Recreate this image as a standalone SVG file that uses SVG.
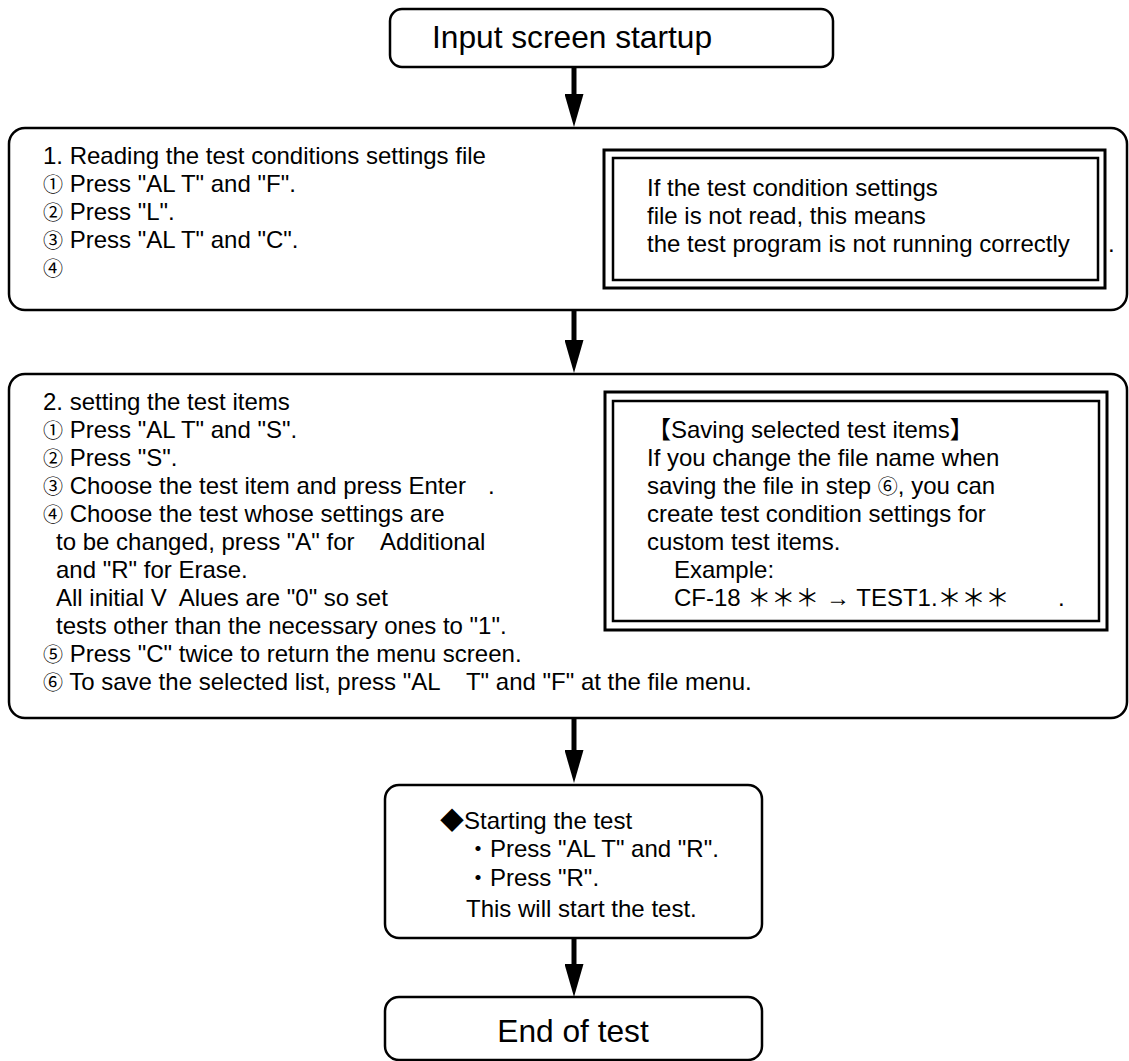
<svg xmlns="http://www.w3.org/2000/svg" width="1129" height="1061" viewBox="0 0 1129 1061">
<defs>
<style>
.box{fill:#fff;stroke:#000;stroke-width:2.5}
.co{fill:none;stroke:#000}
.t{font-family:"Liberation Sans","Noto Sans CJK JP",sans-serif;font-size:24px;fill:#000}
.n{font-family:"Noto Sans CJK JP",sans-serif;font-size:20px}
.big{font-family:"Liberation Sans","Noto Sans CJK JP",sans-serif;font-size:31.7px;fill:#000}
.shaft{stroke:#000;stroke-width:5;fill:none}
</style>
<marker id="ah" markerUnits="userSpaceOnUse" viewBox="0 0 33 19" markerWidth="33" markerHeight="19" refX="1" refY="9.5" orient="auto">
<path d="M0,0 L33,9.5 L0,19 Z" fill="#000"/>
</marker>
</defs>
<rect width="1129" height="1061" fill="#fff"/>

<g id="connectors">
<line class="shaft" x1="574" y1="67" x2="574" y2="95" marker-end="url(#ah)"/>
<line class="shaft" x1="574" y1="310" x2="574" y2="341" marker-end="url(#ah)"/>
<line class="shaft" x1="574" y1="718" x2="574" y2="751" marker-end="url(#ah)"/>
<line class="shaft" x1="574" y1="938" x2="574" y2="965" marker-end="url(#ah)"/>
</g>

<g id="start">
<rect class="box" x="390" y="9" width="443" height="58" rx="12"/>
<text class="big" x="432" y="48">Input screen startup</text>
</g>

<g id="step1">
<rect class="box" x="9" y="128" width="1118" height="182" rx="16"/>
<text class="t" x="43" y="164">1. Reading the test conditions settings file</text>
<text class="t" x="43" y="192"><tspan class="n">①</tspan> Press "AL T" and "F".</text>
<text class="t" x="43" y="220"><tspan class="n">②</tspan> Press "L".</text>
<text class="t" x="43" y="248"><tspan class="n">③</tspan> Press "AL T" and "C".</text>
<text class="t" x="43" y="276"><tspan class="n">④</tspan></text>
</g>

<g id="note1">
<rect class="co" x="604" y="150" width="501" height="138" stroke-width="3"/>
<rect class="co" x="613" y="158" width="485" height="122" stroke-width="2.5"/>
<text class="t" x="647" y="196">If the test condition settings</text>
<text class="t" x="647" y="224">file is not read, this means</text>
<text class="t" x="647" y="252">the test program is not running correctly</text>
<text class="t" x="1108" y="252">.</text>
</g>

<g id="step2">
<rect class="box" x="9" y="374" width="1118" height="344" rx="16"/>
<text class="t" x="43" y="410">2. setting the test items</text>
<text class="t" x="43" y="438"><tspan class="n">①</tspan> Press "AL T" and "S".</text>
<text class="t" x="43" y="466"><tspan class="n">②</tspan> Press "S".</text>
<text class="t" x="43" y="494"><tspan class="n">③</tspan> Choose the test item and press Enter</text>
<text class="t" x="488" y="494">.</text>
<text class="t" x="43" y="522"><tspan class="n">④</tspan> Choose the test whose settings are</text>
<text class="t" x="56" y="550" xml:space="preserve">to be changed, press "A" for    Additional</text>
<text class="t" x="56" y="578">and "R" for Erase.</text>
<text class="t" x="56" y="606" xml:space="preserve">All initial V  Alues are "0" so set</text>
<text class="t" x="56" y="634">tests other than the necessary ones to "1".</text>
<text class="t" x="43" y="662"><tspan class="n">⑤</tspan> Press "C" twice to return the menu screen.</text>
<text class="t" x="43" y="690" xml:space="preserve"><tspan class="n">⑥</tspan> To save the selected list, press "AL    T" and "F" at the file menu.</text>
</g>

<g id="note2">
<rect class="co" x="605" y="392" width="502" height="238" stroke-width="3"/>
<rect class="co" x="613" y="401" width="486" height="220" stroke-width="2.5"/>
<text class="t" x="647" y="438">【Saving selected test items】</text>
<text class="t" x="647" y="466">If you change the file name when</text>
<text class="t" x="647" y="494">saving the file in step <tspan class="n">⑥</tspan>, you can</text>
<text class="t" x="647" y="522">create test condition settings for</text>
<text class="t" x="647" y="550">custom test items.</text>
<text class="t" x="674" y="578">Example:</text>
<text class="t" x="674" y="606">CF-18 ＊＊＊ → TEST1.＊＊＊</text>
<text class="t" x="1058" y="606">.</text>
</g>

<g id="run">
<rect class="box" x="385" y="785" width="377" height="153" rx="14"/>
<text class="t" x="440" y="829">◆Starting the test</text>
<text class="t" x="466" y="857">・Press "AL T" and "R".</text>
<text class="t" x="466" y="886">・Press "R".</text>
<text class="t" x="466" y="917">This will start the test.</text>
</g>

<g id="end">
<rect class="box" x="385" y="997" width="377" height="63" rx="14"/>
<text class="big" x="573" y="1042" text-anchor="middle">End of test</text>
</g>
</svg>
